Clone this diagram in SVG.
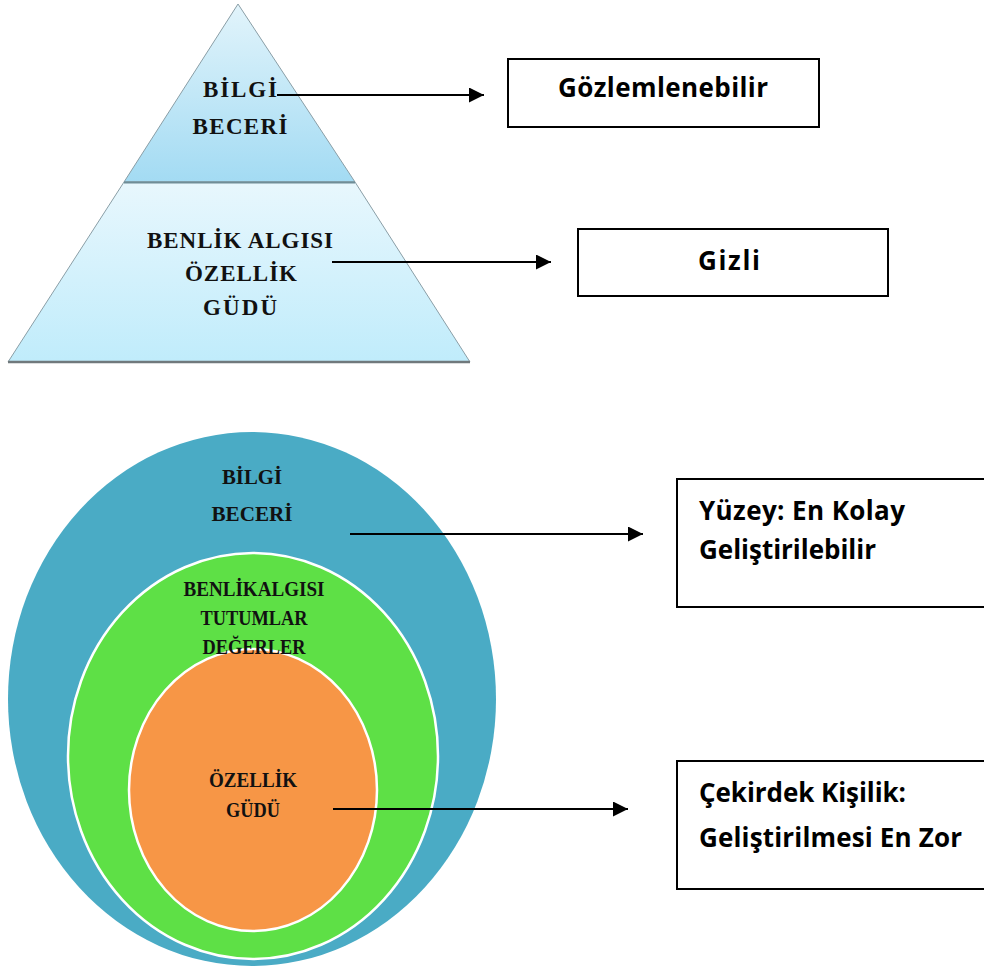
<svg xmlns="http://www.w3.org/2000/svg" width="984" height="970" viewBox="0 0 984 970">
  <defs>
    <linearGradient id="gTop" x1="0" y1="0" x2="0" y2="1">
      <stop offset="0" stop-color="#e2f4fb"/>
      <stop offset="1" stop-color="#a3dbf3"/>
    </linearGradient>
    <linearGradient id="gBot" x1="0" y1="0" x2="0" y2="1">
      <stop offset="0" stop-color="#e8f7fd"/>
      <stop offset="1" stop-color="#c0ecfb"/>
    </linearGradient>
    <marker id="arrow" viewBox="0 0 15 15" refX="15" refY="7.5" markerWidth="15" markerHeight="15" markerUnits="userSpaceOnUse" orient="auto">
      <path d="M0,0 L15,7.5 L0,15 Z" fill="#000"/>
    </marker>
  </defs>
  <style>
    .serif { font-family: "Liberation Serif", "Times New Roman", serif; font-weight: bold; font-size: 21px; fill: #111; text-anchor: middle; }
    .pyr { font-size: 23px; }
    .sans { font-family: "Open Sans", "Liberation Sans", sans-serif; font-weight: bold; font-size: 26px; fill: #000; }
    .box { fill: #fff; stroke: #000; stroke-width: 2; }
    .conn { stroke: #000; stroke-width: 2; fill: none; marker-end: url(#arrow); }
  </style>
  <rect width="984" height="970" fill="#fff"/>

  <g id="pyramid">
    <polygon points="238,4 355,182 124,182" fill="url(#gTop)" stroke="#8a9ea6" stroke-width="1"/>
    <polygon points="124,182 355,182 470,362 8,362" fill="url(#gBot)" stroke="#8a9ea6" stroke-width="1"/>
    <line x1="124" y1="182.5" x2="355" y2="182.5" stroke="#6f8d97" stroke-width="2"/>
    <line x1="8" y1="362" x2="470" y2="362" stroke="#70797c" stroke-width="2.5"/>
    <text class="serif pyr" x="240" y="97" textLength="74" lengthAdjust="spacing">BİLGİ</text>
    <text class="serif pyr" x="240" y="134" textLength="95" lengthAdjust="spacing">BECERİ</text>
    <text class="serif pyr" x="240" y="248" textLength="186" lengthAdjust="spacing">BENLİK ALGISI</text>
    <text class="serif pyr" x="241" y="281" textLength="112" lengthAdjust="spacing">ÖZELLİK</text>
    <text class="serif pyr" x="240" y="315" textLength="74" lengthAdjust="spacing">GÜDÜ</text>
  </g>

  <g id="box-gozlem">
    <rect class="box" x="508" y="59" width="311" height="68"/>
    <text class="sans" x="558" y="97" textLength="210" lengthAdjust="spacing">Gözlemlenebilir</text>
  </g>

  <g id="box-gizli">
    <rect class="box" x="578" y="229" width="310" height="67"/>
    <text class="sans" x="698" y="270" textLength="62" lengthAdjust="spacing">Gizli</text>
  </g>

  <g id="circles">
    <ellipse cx="252" cy="699" rx="244" ry="267" fill="#4aabc5"/>
    <ellipse cx="253" cy="756" rx="185" ry="203" fill="#5ee046" stroke="#fff" stroke-width="2.5"/>
    <ellipse cx="253" cy="790" rx="124" ry="141" fill="#f79646" stroke="#fff" stroke-width="2.5"/>
    <text class="serif" x="252" y="484" textLength="60" lengthAdjust="spacingAndGlyphs">BİLGİ</text>
    <text class="serif" x="252" y="521" textLength="81" lengthAdjust="spacingAndGlyphs">BECERİ</text>
    <text class="serif" x="254" y="596" textLength="141" lengthAdjust="spacingAndGlyphs">BENLİKALGISI</text>
    <text class="serif" x="254" y="625" textLength="107" lengthAdjust="spacingAndGlyphs">TUTUMLAR</text>
    <text class="serif" x="254" y="654" textLength="103" lengthAdjust="spacingAndGlyphs">DEĞERLER</text>
    <text class="serif" x="253" y="787" textLength="88" lengthAdjust="spacingAndGlyphs">ÖZELLİK</text>
    <text class="serif" x="253" y="817" textLength="54" lengthAdjust="spacingAndGlyphs">GÜDÜ</text>
  </g>

  <g id="box-yuzey">
    <rect class="box" x="677" y="479" width="320" height="128"/>
    <text class="sans" x="699" y="520" textLength="206" lengthAdjust="spacing">Yüzey: En Kolay</text>
    <text class="sans" x="699" y="559" textLength="177" lengthAdjust="spacing">Geliştirilebilir</text>
  </g>

  <g id="box-cekirdek">
    <rect class="box" x="677" y="761" width="320" height="128"/>
    <text class="sans" x="699" y="802" textLength="207" lengthAdjust="spacing">Çekirdek Kişilik:</text>
    <text class="sans" x="699" y="847" textLength="263" lengthAdjust="spacing">Geliştirilmesi En Zor</text>
  </g>

  <g id="connectors">
    <line class="conn" x1="277" y1="95" x2="484" y2="95"/>
    <line class="conn" x1="332" y1="262" x2="551" y2="262"/>
    <line class="conn" x1="350" y1="534" x2="643" y2="534"/>
    <line class="conn" x1="333" y1="809" x2="628" y2="809"/>
  </g>
</svg>
